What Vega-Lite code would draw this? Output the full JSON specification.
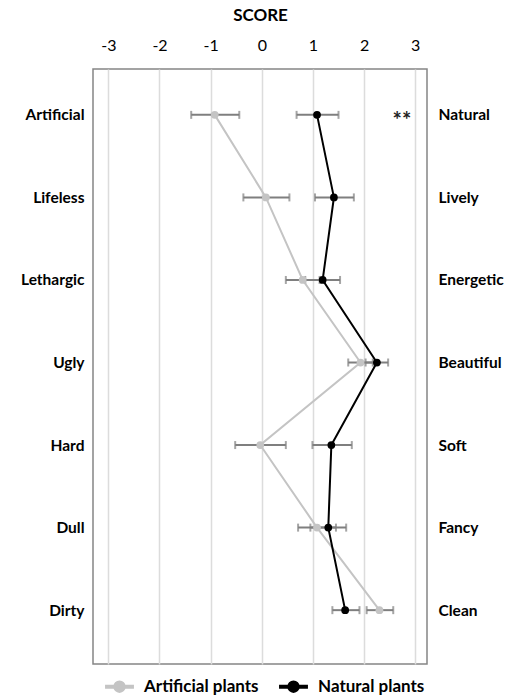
{
  "$schema": "https://vega.github.io/schema/vega-lite/v6.json",
  "autosize": {"type": "none"},
  "padding": {"left": 93, "top": 69, "right": 89, "bottom": 32},
  "width": 334,
  "height": 595,
  "config": {
    "font": "Lato",
    "view": {"stroke": "#858585", "strokeWidth": 1.5},
    "background": "white"
  },
  "datasets": {
    "scores": [
      {"idx": 1, "left": "Artificial", "group": "Artificial plants", "mean": -0.92, "lo": -1.38, "hi": -0.44},
      {"idx": 2, "left": "Lifeless", "group": "Artificial plants", "mean": 0.08, "lo": -0.36, "hi": 0.54},
      {"idx": 3, "left": "Lethargic", "group": "Artificial plants", "mean": 0.8, "lo": 0.47, "hi": 1.13},
      {"idx": 4, "left": "Ugly", "group": "Artificial plants", "mean": 1.93, "lo": 1.69, "hi": 2.17},
      {"idx": 5, "left": "Hard", "group": "Artificial plants", "mean": -0.03, "lo": -0.52, "hi": 0.47},
      {"idx": 6, "left": "Dull", "group": "Artificial plants", "mean": 1.08, "lo": 0.71, "hi": 1.45},
      {"idx": 7, "left": "Dirty", "group": "Artificial plants", "mean": 2.3, "lo": 2.05, "hi": 2.57},
      {"idx": 1, "left": "Artificial", "group": "Natural plants", "mean": 1.08, "lo": 0.68, "hi": 1.5},
      {"idx": 2, "left": "Lifeless", "group": "Natural plants", "mean": 1.41, "lo": 1.04, "hi": 1.8},
      {"idx": 3, "left": "Lethargic", "group": "Natural plants", "mean": 1.19, "lo": 0.85, "hi": 1.53},
      {"idx": 4, "left": "Ugly", "group": "Natural plants", "mean": 2.25, "lo": 2.03, "hi": 2.47},
      {"idx": 5, "left": "Hard", "group": "Natural plants", "mean": 1.36, "lo": 0.99, "hi": 1.76},
      {"idx": 6, "left": "Dull", "group": "Natural plants", "mean": 1.3, "lo": 0.95, "hi": 1.65},
      {"idx": 7, "left": "Dirty", "group": "Natural plants", "mean": 1.63, "lo": 1.38, "hi": 1.91}
    ],
    "rows": [
      {"idx": 1, "right": "Natural"},
      {"idx": 2, "right": "Lively"},
      {"idx": 3, "right": "Energetic"},
      {"idx": 4, "right": "Beautiful"},
      {"idx": 5, "right": "Soft"},
      {"idx": 6, "right": "Fancy"},
      {"idx": 7, "right": "Clean"}
    ],
    "notes": [
      {"left": "Artificial", "x": 2.74, "label": "**"}
    ]
  },
  "layer": [
    {
      "data": {"name": "scores"},
      "encoding": {
        "y": {
          "field": "left", "type": "nominal",
          "sort": ["Artificial", "Lifeless", "Lethargic", "Ugly", "Hard", "Dull", "Dirty"],
          "scale": {"type": "point", "padding": 0.604, "align": 0.46},
          "axis": {"orient": "left", "title": null, "domain": false, "ticks": false, "tickSize": 0, "grid": false, "labelFontSize": 15.5, "labelFontWeight": "bold", "labelColor": "#000", "labelPadding": 9}
        }
      },
      "layer": [
        {
          "mark": {"type": "rule", "color": "#7f7f7f", "strokeWidth": 2},
          "encoding": {
            "x": {
              "field": "lo", "type": "quantitative",
              "scale": {"domain": [-3.3, 3.23], "nice": false, "zero": false},
              "axis": {"orient": "top", "title": "SCORE", "titleFontSize": 17, "titleFontWeight": "bold", "titleColor": "#000", "titlePadding": 13, "values": [-3, -2, -1, 0, 1, 2, 3], "labelExpr": "'' + datum.value", "labelFontSize": 16, "labelColor": "#000", "labelPadding": 16, "domain": false, "ticks": false, "tickSize": 0, "grid": true, "gridColor": "#dcdcdc", "gridWidth": 1.5}
            },
            "x2": {"field": "hi"}
          }
        },
        {
          "mark": {"type": "tick", "color": "#7f7f7f", "thickness": 2, "size": 8},
          "encoding": {"x": {"field": "lo", "type": "quantitative"}}
        },
        {
          "mark": {"type": "tick", "color": "#7f7f7f", "thickness": 2, "size": 8},
          "encoding": {"x": {"field": "hi", "type": "quantitative"}}
        },
        {
          "mark": {"type": "line", "strokeWidth": 2},
          "encoding": {
            "x": {"field": "mean", "type": "quantitative"},
            "order": {"field": "idx"},
            "color": {
              "field": "group", "type": "nominal",
              "scale": {"domain": ["Artificial plants", "Natural plants"], "range": ["#c4c4c4", "#000000"]},
              "legend": {
                "orient": "none", "direction": "horizontal", "legendX": 16, "legendY": 607, "title": null,
                "symbolType": "M-1.7,0H1.7M0.5,0A0.5,0.5,0,1,1,-0.5,0A0.5,0.5,0,1,1,0.5,0Z",
                "symbolSize": 289, "symbolStrokeWidth": 4,
                "labelFontSize": 17, "labelFontWeight": "bold", "labelColor": "#000", "columnPadding": 12, "labelOffset": 14
              }
            }
          }
        },
        {
          "mark": {"type": "circle", "size": 60, "opacity": 1},
          "encoding": {
            "x": {"field": "mean", "type": "quantitative"},
            "color": {"field": "group", "type": "nominal", "legend": null}
          }
        }
      ]
    },
    {
      "data": {"name": "notes"},
      "mark": {"type": "text", "fontSize": 22, "fontWeight": "bold", "color": "#222", "baseline": "middle", "dy": 6},
      "encoding": {
        "x": {"field": "x", "type": "quantitative"},
        "y": {"field": "left", "type": "nominal", "sort": ["Artificial", "Lifeless", "Lethargic", "Ugly", "Hard", "Dull", "Dirty"], "scale": {"type": "point", "padding": 0.604, "align": 0.46, "domain": ["Artificial", "Lifeless", "Lethargic", "Ugly", "Hard", "Dull", "Dirty"]}, "axis": null},
        "text": {"field": "label"}
      }
    },
    {
      "data": {"name": "rows"},
      "mark": {"type": "point", "opacity": 0},
      "encoding": {
        "y": {
          "field": "right", "type": "nominal",
          "sort": ["Natural", "Lively", "Energetic", "Beautiful", "Soft", "Fancy", "Clean"],
          "scale": {"type": "point", "padding": 0.604, "align": 0.46},
          "axis": {"orient": "right", "title": null, "domain": false, "ticks": false, "tickSize": 0, "grid": false, "labelFontSize": 15.5, "labelFontWeight": "bold", "labelColor": "#000", "labelPadding": 11}
        }
      }
    }
  ],
  "resolve": {"scale": {"y": "independent"}}
}
